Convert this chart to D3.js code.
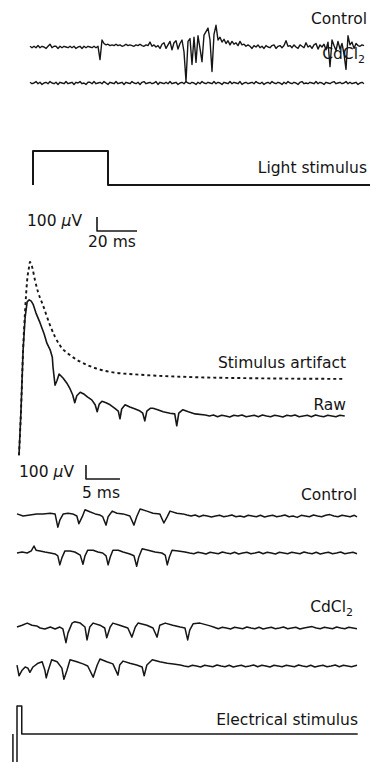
<!DOCTYPE html>
<html lang="en">
<head>
    <meta charset="UTF-8">
    <title>Field potentials</title>
    <style>
        body { margin: 0; background: #fff; }
        text { font-family: "DejaVu Sans", sans-serif; font-size: 15.5px; fill: #141414; }
    </style>
</head>
<body>
<script src="https://d3js.org/d3.v7.min.js"></script>
<script>

    // ---- top panel, light response, sampled every 1 ms (µV) ----
    let topControl = [
        5, -5, 5, -5, 10, -5, 5, 0, -10, 5,
        20, -5, 5, 5, -10, 5, -5, 5, 0, -5,
        5, -5, 5, -10, 0, 5, -10, 5, -5, 5,
        0, -5, 5, -5, 5, -90, 50,
        25, 15, 20, 10, 15, 10, 20, 10, 15, 5, 10, 20, 10, 15, 10, 5, 15, 10, 20, 10, 5, 15, 10,
        35, 5, 15, 0, 10, -10, 20, 30, -10, 15, 40, -20, 30, 45, -15, 25, 50, -35,
        -245, 40, 60, -125, 70, -110, 80, -10, -105, 85, 110, 135, 50, -175, 90, 155, 50, 70,
        35, 55, 25, 45, 15, 40, 20, 30, 10, 40, 15, 20, 5, 15,
        5, -10, 10, 0, 15, -5, 5, -10, 10, 0, -5, 10, 15, -10, 5, 10, -5, 10, 45, 5,
        10, -5, 15, 0, -10, 15, 5, -5, 30, 0, 10, -10, 15, 25, -15, 15, 0, 20, -20, 35,
        -140, 50, 10, -25, 40, -15, 25, -50, -160, 80, 15, 35, -10, 25, 10, 5, 15, 10
    ];
    let topCdCl2 = [
        5, -5, 0, 10, -5, 5, -10, 0, 5, -5, 10, 0, -5, 5, -10, 5, 0, -5, 10, -5,
        0, 5, -10, 5, 0, 10, -5, 0, -10, 5, 5, -5, 10, -5, 0, 5, -5, 10, 0, -10,
        5, 0, -5, 10, -5, 0, 5, -10, 5, 0, -5, 10, 0, -5, 5, -10, 5, 10, -5, 0,
        5, -5, 0, 10, -10, 5, 0, -5, 5, -5, 10, -5, 0, 5, -10, 0, 5, -5, 10, 0,
        -5, 5, 0, -10, 5, -5, 10, 0, -5, 5, 0, -5, 10, -5, 5, 0, -10, 5, 0, -5,
        10, -5, 5, 0, -5, 10, -10, 0, 5, -5, 0, 5, -5, 10, 0, -5, 5, -10, 0, 5,
        -5, 10, 0, -5, 5, 0, -10, 5, -5, 10, 0, -5, 5, 0, -10, 5, 10, -5, 0, -5,
        5, 0, -5, 10, -5, 5, 0, -10, 5, 0, -5, 5, 10, -5, 0, 5, -5, 0, 10, -5,
        5, -5, 0, 5, -10, 0, 5, -5
    ];
    // light on / off (ms, state)
    let lightTimes = [1.5, 1.5, 39, 39, 170];
    let lightState = [0, 1, 1, 0, 0];

    // ---- middle panel, electrically evoked (ms, µV) ----
    let rawTrace = [
        [0, -280], [0.3, 45], [0.6, 470], [0.9, 705], [1.2, 815], [1.5, 830], [1.8, 820], [2.1, 795],
        [2.5, 735], [3.1, 665], [3.7, 585], [4.1, 520], [4.6, 470], [4.9, 420], [5.0, 350], [5.3, 220],
        [5.6, 255], [5.9, 300], [6.5, 270], [7.1, 230], [7.5, 195], [7.9, 150], [8.2, 95], [8.5, 145],
        [9.0, 170], [9.6, 155], [10.1, 135], [10.7, 115], [11.2, 80], [11.5, 30], [11.8, 85], [12.2, 105],
        [12.8, 95], [13.4, 80], [14.1, 55], [14.6, 35], [14.85, -20], [15.1, 50], [15.6, 80], [16.3, 65],
        [17.1, 50], [17.8, 35], [18.2, 20], [18.5, -35], [18.8, 35], [19.3, 55], [19.7, 55], [20.4, 45],
        [21.2, 30], [22.2, 20], [22.9, 15], [23.2, -70], [23.5, 20], [24.1, 45], [24.9, 30], [25.9, 15],
        [27.4, 7], [28.0, 0], [28.6, 7], [29.2, -5], [29.8, 5], [30.4, 0], [31.0, -7], [31.6, 5], [32.2, 0],
        [32.8, 7], [33.4, -5], [34.0, 0], [34.6, 5], [35.2, -5], [35.8, 7], [36.4, 0], [37.0, -5], [37.6, 5],
        [38.2, 0], [38.8, -7], [39.4, 5], [40.0, 0], [40.6, 7], [41.2, -5], [41.8, 0], [42.4, 5], [43.0, -5],
        [43.6, 7], [44.2, 0], [44.8, -5], [45.4, 5], [46.0, 0], [46.6, -5], [47.2, 5], [47.9, 0]
    ];
    let artifactTrace = [
        [0, -280], [0.3, 45], [0.6, 470], [0.9, 755], [1.2, 970], [1.5, 1070], [1.6, 1100], [1.9, 1070],
        [2.35, 970], [2.8, 885], [3.5, 795], [4.55, 650], [5.3, 565], [6.0, 505], [7.5, 435], [10.0, 365],
        [13.4, 315], [17.8, 295], [24.1, 280], [34.0, 270], [47.9, 265]
    ];

    // ---- bottom panel (ms, µV) ----
    let control1 = [
        [0, 15], [0.9, 0], [1.9, 7], [2.9, 15], [3.8, 15], [4.9, 20], [5.6, 15], [6.0, -80], [6.3, -30],
        [6.8, 15], [7.5, 20], [8.2, 15], [8.8, 0], [9.1, -55], [9.6, -5], [10.0, 45], [10.7, 30], [11.5, 15],
        [12.2, 7], [12.6, -5], [13.1, -65], [13.4, -5], [14.0, 35], [14.7, 20], [15.6, 15], [16.6, 0],
        [17.2, -65], [17.6, -5], [18.1, 50], [19.1, 35], [20.0, 20], [21.0, 15], [21.6, -50], [22.1, -5],
        [22.5, 35], [23.5, 20], [24.4, 15], [25.0, 7], [25.6, 0], [26.2, 7], [26.8, -5], [27.4, 5], [28.0, 0],
        [28.6, -7], [29.2, 0], [29.8, 5], [30.4, -5], [31.0, 0], [31.6, 7], [32.2, -5], [32.8, 0], [33.4, -7],
        [34.0, 5], [34.6, 0], [35.2, -5], [35.8, 5], [36.4, -7], [37.0, 0], [37.6, 5], [38.2, -5], [38.8, 0],
        [39.4, 7], [40.0, -5], [40.6, 0], [41.2, -10], [41.8, 5], [42.4, 0], [43.0, -5], [43.6, 7], [44.2, 0],
        [44.8, -5], [45.4, 5], [46.0, 10], [46.6, 0], [47.2, -5], [47.8, 5], [48.4, 0], [49.0, -5], [49.6, 5],
        [50.0, -7]
    ];
    let control2 = [
        [0, 0], [0.75, 7], [1.5, 0], [2.1, 15], [2.5, 50], [2.8, 20], [3.4, 15], [4.1, 7], [4.9, 0], [5.6, -7],
        [6.0, -20], [6.3, -85], [6.6, -35], [7.05, 15], [7.8, 15], [8.5, 7], [9.3, -15], [9.7, -80], [10.0, -20],
        [10.4, 20], [11.2, 20], [11.9, 7], [12.6, 0], [13.1, -20], [13.4, -85], [13.7, -30], [14.1, 20],
        [14.9, 20], [15.6, 7], [16.6, -7], [17.2, -20], [17.6, -95], [17.9, -30], [18.4, 30], [19.3, 20],
        [20.3, 7], [21.3, 0], [21.8, -15], [22.1, -85], [22.4, -30], [22.8, 20], [23.7, 15], [24.7, 7],
        [25.4, 0], [26.0, -5], [26.6, 5], [27.2, 0], [27.8, -7], [28.4, 5], [29.0, 0], [29.6, -5], [30.2, 7],
        [30.8, 0], [31.4, -5], [32.0, 5], [32.6, -7], [33.2, 0], [33.8, 5], [34.4, -5], [35.0, 0], [35.6, 7],
        [36.2, -5], [36.8, 5], [37.4, 0], [38.0, -7], [38.6, 5], [39.2, 0], [39.8, -5], [40.4, 5], [41.0, 0],
        [41.6, -5], [42.2, 7], [42.8, 0], [43.4, -5], [44.0, 5], [44.6, -7], [45.2, 0], [45.8, 5], [46.4, -5],
        [47.0, 0], [47.6, 7], [48.2, -5], [48.8, 0], [49.4, 5], [50.0, -5]
    ];
    let cdcl1 = [
        [0, 7], [0.75, 20], [1.5, 35], [2.2, 20], [2.9, 15], [3.4, 0], [4.1, -7], [4.9, 7], [5.6, -7], [6.3, 7],
        [6.75, -7], [7.2, -105], [7.5, -35], [8.1, 35], [8.5, 45], [9.3, 35], [10.0, 7], [10.3, -85], [10.7, 7],
        [11.2, 35], [12.2, 20], [12.9, 0], [13.2, -70], [13.7, 7], [14.1, 35], [15.1, 20], [16.3, 0],
        [16.9, -65], [17.4, 7], [17.8, 35], [19.1, 20], [20.0, 0], [20.6, -65], [21.0, 20], [21.8, 35],
        [22.9, 20], [24.0, 7], [24.7, 0], [25.1, -85], [25.4, -15], [25.9, 30], [26.9, 35], [28.4, 15],
        [29.0, 5], [29.6, -5], [30.2, 5], [30.8, 0], [31.4, -7], [32.0, 5], [32.6, 0], [33.2, -5], [33.8, 7],
        [34.4, 0], [35.0, -5], [35.6, 5], [36.2, -7], [36.8, 0], [37.4, 5], [38.0, -5], [38.6, 0], [39.2, 7],
        [39.8, -5], [40.4, 0], [41.0, 5], [41.6, -7], [42.2, 0], [42.8, 5], [43.4, 10], [44.0, 0], [44.6, -5],
        [45.2, 5], [45.8, 0], [46.4, -5], [47.0, 7], [47.6, 0], [48.2, -5], [48.8, 5], [49.4, 0], [50.0, -5]
    ];
    let cdcl2 = [
        [0, 7], [0.3, -70], [0.75, -30], [1.2, -7], [1.6, -15], [1.9, -45], [2.35, -7], [3.1, 20], [3.7, 30],
        [4.1, -30], [4.3, -85], [4.6, -30], [5.1, 45], [5.9, 30], [6.6, -15], [6.9, -95], [7.35, -30], [7.8, 45],
        [8.8, 30], [9.7, 15], [10.4, 0], [11.2, -80], [11.8, 7], [12.2, 50], [13.2, 30], [14.1, 15],
        [14.85, -65], [15.1, 7], [15.6, 35], [16.6, 20], [17.6, 7], [18.4, -7], [18.7, -70], [19.1, 7],
        [19.9, 45], [21.0, 30], [22.1, 20], [23.0, 15], [24.0, 7], [24.6, 0], [25.2, -5], [25.8, 5], [26.4, 0],
        [27.0, -7], [27.6, 5], [28.2, 0], [28.8, -5], [29.4, 7], [30.0, 0], [30.6, -5], [31.2, 5], [31.8, -7],
        [32.4, 0], [33.0, 5], [33.6, -5], [34.2, 0], [34.8, 7], [35.4, -5], [36.0, 5], [36.6, 0], [37.2, -7],
        [37.8, 5], [38.4, 0], [39.0, -5], [39.6, 5], [40.2, 0], [40.8, -5], [41.4, 7], [42.0, 0], [42.6, -5],
        [43.2, 5], [43.8, -7], [44.4, 0], [45.0, 5], [45.6, -5], [46.2, 0], [46.8, 7], [47.4, -5], [48.0, 5],
        [48.6, 0], [49.2, -5], [50.0, 5]
    ];
    // biphasic electrical pulse (ms, relative amplitude)
    let stimTimes = [-0.6, -0.6, 0, 0, 0.7, 0.7, 50.1];
    let stimAmp = [0, -1.5, -1.5, 1, 1, 0, 0];

    // labels and scale bars
    let labels = {
        control: "Control", cd: "CdCl", sub: "2", light: "Light stimulus",
        artifact: "Stimulus artifact", raw: "Raw", electrical: "Electrical stimulus"
    };
    let bar1 = {uv: 100, ms: 20, msText: "20 ms"};
    let bar2 = {uv: 100, ms: 5, msText: "5 ms"};

    let w = 372, h = 762;
    let svg = d3.select("body").append("svg")
        .attr("width", w)
        .attr("height", h);

    // time scales (2 px/ms top, 6.8 px/ms below)
    let xTop = d3.scaleLinear().domain([0, 167]).range([30, 364]);
    let xMid = d3.scaleLinear().domain([0, 48]).range([19, 345.4]);
    let xLow = d3.scaleLinear().domain([0, 50]).range([17, 357]);

    // 100 µV = 14 px, baseline given in pixels
    function yAt(base) {
        return d3.scaleLinear().domain([0, 100]).range([base, base - 14]);
    }

    function drawPath(pts, x, y, sw = 1.5, dash = null, curve = d3.curveLinear) {
        let line = d3.line()
            .x(function (d) { return x(d[0]); })
            .y(function (d) { return y(d[1]); })
            .curve(curve);
        svg.append("path")
            .datum(pts)
            .attr("d", line)
            .attr("fill", "none")
            .attr("stroke", "#161616")
            .attr("stroke-width", sw)
            .attr("stroke-linejoin", "round")
            .attr("stroke-dasharray", dash);
    }

    function drawText(x, y, s, anchor = "start") {
        return svg.append("text")
            .attr("x", x)
            .attr("y", y)
            .attr("text-anchor", anchor)
            .text(s);
    }

    function drawCd(x, y) {
        let t = drawText(x, y, labels.cd, "end");
        t.append("tspan").attr("dy", 4).style("font-size", "11px").text(labels.sub);
    }

    // "100 μV" with the Greek mu slanted as in the figure
    function drawUv(x, y, uv) {
        let t = drawText(x, y, uv + " ");
        t.append("tspan").style("font-style", "italic").text("\u03bc");
        t.append("tspan").text("V");
    }

    function drawBar(bar, x, t0, base) {
        let y = yAt(base);
        drawPath([[t0, bar.uv], [t0, 0], [t0 + bar.ms, 0]], x, y, 1.6);
    }

    // top panel
    drawPath(topControl.map(function (v, i) { return [i, v]; }), xTop, yAt(47), 1.4);
    drawPath(topCdCl2.map(function (v, i) { return [i, v]; }), xTop, yAt(83), 1.4);
    drawText(367, 24, labels.control, "end");
    drawCd(365, 59);

    let yLight = d3.scaleLinear().domain([0, 1]).range([185, 151]);
    drawPath(lightTimes.map(function (t, i) { return [t, lightState[i]]; }), xTop, yLight, 2);
    drawText(367, 173, labels.light, "end");

    drawBar(bar1, xTop, 33.5, 231);
    drawUv(27, 226, bar1.uv);
    drawText(88, 247, bar1.msText);

    // middle panel
    drawPath(artifactTrace, xMid, yAt(416), 1.9, "3,3", d3.curveMonotoneX);
    drawPath(rawTrace, xMid, yAt(416), 1.6);
    drawText(346, 368, labels.artifact, "end");
    drawText(346, 410, labels.raw, "end");

    drawBar(bar2, xMid, 9.85, 479);
    drawUv(19, 477, bar2.uv);
    drawText(82, 498, bar2.msText);

    // bottom panel
    drawText(357, 500, labels.control, "end");
    drawPath(control1, xLow, yAt(516), 1.5);
    drawPath(control2, xLow, yAt(553), 1.5);
    drawCd(353, 612);
    drawPath(cdcl1, xLow, yAt(628), 1.5);
    drawPath(cdcl2, xLow, yAt(666), 1.5);

    let yStim = d3.scaleLinear().domain([0, 1]).range([734, 706]);
    drawPath(stimTimes.map(function (t, i) { return [t, stimAmp[i]]; }), xLow, yStim, 1.5);
    drawText(358, 725, labels.electrical, "end");

</script>
</body>
</html>
